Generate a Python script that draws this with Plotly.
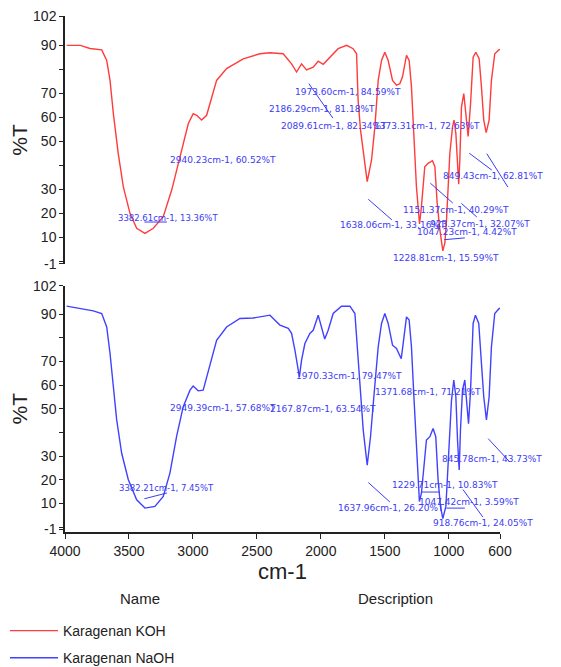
import plotly.graph_objects as go

# ---------------- data ----------------
koh_wn = [3987, 3880, 3805, 3713, 3674, 3648, 3622, 3584, 3544, 3492, 3440, 3375, 3310, 3232, 3166,
          3102, 3036, 2998, 2971, 2932, 2893, 2815, 2737, 2607, 2477, 2398, 2295, 2229, 2190, 2151,
          2112, 2060, 2021, 1982, 1930, 1865, 1799, 1748, 1721, 1709, 1690, 1669, 1638, 1604, 1578,
          1552, 1526, 1500, 1474, 1440, 1409, 1383, 1362, 1331, 1310, 1292, 1273, 1253, 1229, 1214,
          1188, 1162, 1128, 1109, 1091, 1070, 1047, 1031, 1018, 992, 971, 959, 945, 935, 923,
          914, 901, 883, 862, 849, 830, 810, 789, 763, 745, 727, 708, 685, 667, 641, 607, 600]
koh_t = [89.9, 89.9, 88.6, 88.0, 83.6, 75.3, 61.5, 45.0, 31.0, 20.0, 13.8, 11.7, 13.8, 18.6, 29.7,
         43.5, 57.4, 61.5, 60.8, 58.8, 60.8, 75.3, 80.2, 84.3, 86.4, 86.8, 86.4, 82.2, 78.8, 82.2,
         79.7, 80.8, 83.3, 82.0, 85.0, 88.5, 89.9, 88.5, 86.4, 67.0, 54.6, 45.0, 33.2, 42.2, 56.0,
         75.3, 83.6, 87.0, 83.6, 75.3, 73.3, 73.9, 76.8, 85.7, 83.6, 72.6, 51.8, 31.0, 15.6, 22.8,
         39.4, 40.8, 41.9, 39.4, 24.2, 13.1, 4.4, 7.6, 17.3, 45.0, 56.0, 58.8, 53.3, 42.2, 32.1,
         42.2, 64.3, 69.8, 58.8, 52.0, 65.7, 85.0, 87.0, 84.3, 72.6, 58.8, 53.6, 58.8, 75.3, 86.4, 88.1, 88.1]

naoh_wn = [3987, 3883, 3779, 3713, 3674, 3648, 3622, 3596, 3557, 3505, 3440, 3375, 3297, 3232, 3180,
           3128, 3076, 3023, 2998, 2959, 2920, 2880, 2815, 2737, 2633, 2529, 2425, 2398, 2359, 2320,
           2255, 2229, 2203, 2168, 2151, 2125, 2086, 2060, 2021, 1995, 1970, 1943, 1904, 1839, 1773,
           1734, 1716, 1695, 1669, 1638, 1612, 1586, 1552, 1526, 1500, 1474, 1440, 1409, 1372, 1357,
           1331, 1310, 1292, 1273, 1253, 1230, 1214, 1196, 1175, 1148, 1123, 1102, 1084, 1065, 1047,
           1023, 1005, 979, 961, 945, 932, 919, 909, 893, 875, 857, 846, 830, 810, 792, 766, 745,
           727, 706, 685, 667, 641, 607, 600]
naoh_t = [93.4, 92.4, 91.4, 90.3, 84.6, 73.4, 59.3, 45.3, 31.2, 20.0, 11.5, 8.0, 8.7, 12.9, 22.8,
          38.2, 50.9, 57.9, 59.6, 57.6, 57.9, 66.4, 79.0, 84.6, 88.2, 88.4, 89.6, 89.6, 87.5, 85.4,
          84.0, 81.9, 74.8, 63.5, 70.6, 77.6, 81.9, 83.2, 89.6, 84.6, 79.5, 83.2, 90.3, 93.4, 93.4,
          90.3, 76.2, 62.2, 41.0, 26.2, 38.2, 55.1, 76.2, 86.1, 90.3, 86.1, 76.9, 75.5, 71.2, 77.6,
          88.9, 87.5, 76.2, 55.1, 34.0, 10.8, 14.3, 25.6, 36.8, 38.2, 41.7, 38.2, 20.0, 8.7, 3.6,
          8.7, 27.0, 53.7, 62.2, 55.1, 36.8, 24.1, 41.0, 57.9, 62.2, 50.9, 43.7, 57.9, 86.1, 89.6, 86.1, 69.2,
          55.1, 45.3, 55.1, 76.2, 90.3, 92.4, 92.4]

series_names = ["Karagenan KOH", "Karagenan NaOH"]

y_tickvals = [102, 90, 80, 70, 60, 50, 40, 30, 20, 10, 0, -1]
y_ticktext = ["102", "90", "", "70", "60", "50", "", "30", "20", "10", "", "-1"]
x_tickvals = [4000, 3500, 3000, 2500, 2000, 1500, 1000, 600]
x_ticktext = ["4000", "3500", "3000", "2500", "2000", "1500", "1000", "600"]

# peak labels: (text, label x, label y)
koh_labels = [
    ("3382.61cm-1, 13.36%T", 3195, 18.1),
    ("2940.23cm-1, 60.52%T", 2766, 42.2),
    ("1973.60cm-1, 84.59%T", 1789, 70.4),
    ("2186.29cm-1, 81.18%T", 1992, 63.4),
    ("2089.61cm-1, 82.34%T", 1898, 56.3),
    ("1373.31cm-1, 72.63%T", 1172, 56.3),
    ("849.43cm-1, 62.81%T", 656, 35.5),
    ("707.92cm-1, 53.65%T", 531, 28.5),
    ("1151.37cm-1, 40.29%T", 945, 21.4),
    ("1638.06cm-1, 33.16%T", 1438, 15.2),
    ("923.37cm-1, 32.07%T", 758, 15.6),
    ("1047.23cm-1, 4.42%T", 859, 12.3),
    ("1228.81cm-1, 15.59%T", 1023, 1.5),
]
naoh_labels = [
    ("3382.21cm-1, 7.45%T", 3203, 16.5),
    ("2949.39cm-1, 57.68%T", 2766, 50.3),
    ("1970.33cm-1, 79.47%T", 1781, 63.8),
    ("2167.87cm-1, 63.54%T", 1984, 49.9),
    ("1371.68cm-1, 71.21%T", 1164, 57.0),
    ("845.78cm-1, 43.73%T", 664, 28.7),
    ("706.14cm-1, 45.25%T", 523, 22.8),
    ("1229.71cm-1, 10.83%T", 1031, 17.8),
    ("1047.42cm-1, 3.59%T", 844, 10.6),
    ("1637.96cm-1, 26.20%T", 1453, 8.0),
    ("918.76cm-1, 24.05%T", 734, 1.7),
]
# leader lines: (x0, y0, x1, y1)
koh_leaders = [
    (2102, 74.6, 1906, 59.6),
    (852, 45.5, 664, 38.0),
    (711, 45.5, 539, 31.0),
    (1641, 26.4, 1445, 17.3),
    (1156, 33.1, 969, 24.3),
    (914, 24.7, 781, 18.5),
    (3391, 16.4, 3203, 16.4),
    (1047, 9.0, 875, 9.8),
]
naoh_leaders = [
    (703, 38.0, 523, 27.5),
    (1641, 19.4, 1461, 10.6),
    (898, 16.5, 734, 4.2),
    (3391, 11.8, 3203, 14.4),
    (1227, 14.8, 1070, 14.8),
    (1031, 8.0, 875, 8.0),
]

RED = "#ff3b3b"
BLUE = "#4141ff"
LABEL_BLUE = "#3c3cf5"
SANS = "Liberation Sans, Arial, sans-serif"

# the page body adds an 8px offset, so the figure is 8px smaller than the window
W, H = 553, 659
ML, MR, MT, MB = 57, 61, 8, 135
PW, PH = W - ML - MR, H - MT - MB

fig = go.Figure()
fig.add_trace(go.Scatter(x=koh_wn, y=koh_t, mode="lines", name=series_names[0],
                         line=dict(color=RED, width=1.4), xaxis="x", yaxis="y",
                         legendgroup="a"))
fig.add_trace(go.Scatter(x=naoh_wn, y=naoh_t, mode="lines", name=series_names[1],
                         line=dict(color=BLUE, width=1.4), xaxis="x2", yaxis="y2",
                         legendgroup="b"))

annotations = []
for i, (txt, x, y) in enumerate(koh_labels):
    annotations.append(dict(text=txt, x=x, y=y, xref="x", yref="y", showarrow=False,
                            font=dict(family="DejaVu Sans", size=8.5 if i == 0 else 9, color=LABEL_BLUE)))
for i, (txt, x, y) in enumerate(naoh_labels):
    annotations.append(dict(text=txt, x=x, y=y, xref="x2", yref="y2", showarrow=False,
                            font=dict(family="DejaVu Sans", size=8.5 if i == 0 else 9, color=LABEL_BLUE)))
for (x0, y0, x1, y1) in koh_leaders:
    annotations.append(dict(text="", x=x1, y=y1, ax=x0, ay=y0, xref="x", yref="y",
                            axref="x", ayref="y", showarrow=True, arrowhead=0,
                            arrowwidth=1, arrowcolor=LABEL_BLUE, standoff=0, startstandoff=0))
for (x0, y0, x1, y1) in naoh_leaders:
    annotations.append(dict(text="", x=x1, y=y1, ax=x0, ay=y0, xref="x2", yref="y2",
                            axref="x2", ayref="y2", showarrow=True, arrowhead=0,
                            arrowwidth=1, arrowcolor=LABEL_BLUE, standoff=0, startstandoff=0))

# column headers of the legend table (figure pixel positions -> paper coords)
for txt, px, py in [("Name", 132, 590), ("Description", 387, 590)]:
    annotations.append(dict(text=txt, x=(px - ML) / PW, y=(H - MB - py) / PH,
                            xref="paper", yref="paper", xanchor="center", yanchor="middle",
                            showarrow=False, font=dict(family=SANS, size=15, color="#222")))

yaxis_common = dict(showline=True, linecolor="#222", linewidth=1.5, ticks="outside", ticklen=4,
                    tickcolor="#222", tickvals=y_tickvals, ticktext=y_ticktext, showgrid=False,
                    zeroline=False, automargin=False,
                    tickfont=dict(family=SANS, size=14, color="#222"),
                    title=dict(text="%T", font=dict(family=SANS, size=21, color="#222"),
                               standoff=10))

fig.update_layout(
    width=W, height=H,
    margin=dict(l=ML, r=MR, t=MT, b=MB, autoexpand=False),
    paper_bgcolor="white", plot_bgcolor="white",
    xaxis=dict(domain=[0, 1], anchor="y", range=[4000, 600], visible=False),
    yaxis=dict(domain=[0.5194, 1], anchor="x", range=[-1.05, 102.1], **yaxis_common),
    xaxis2=dict(domain=[0, 1], anchor="y2", range=[4000, 600], showline=True, linecolor="#222",
                linewidth=1.5, ticks="outside", ticklen=5, tickcolor="#222", tickvals=x_tickvals,
                ticktext=x_ticktext, showgrid=False, zeroline=False, automargin=False,
                tickfont=dict(family=SANS, size=14, color="#222"),
                title=dict(text="cm-1", font=dict(family=SANS, size=22, color="#222"),
                           standoff=6)),
    yaxis2=dict(domain=[0, 0.4775], anchor="x2", range=[-2.1, 102.1], **yaxis_common),
    showlegend=True,
    legend=dict(x=(-3 - ML) / PW, y=-(607 - (H - MB)) / PH, xanchor="left", yanchor="top",
                orientation="v", font=dict(family=SANS, size=14, color="#222"), itemwidth=48,
                tracegroupgap=6, bgcolor="rgba(0,0,0,0)"),
    annotations=annotations,
)

fig.write_html("out.html")
